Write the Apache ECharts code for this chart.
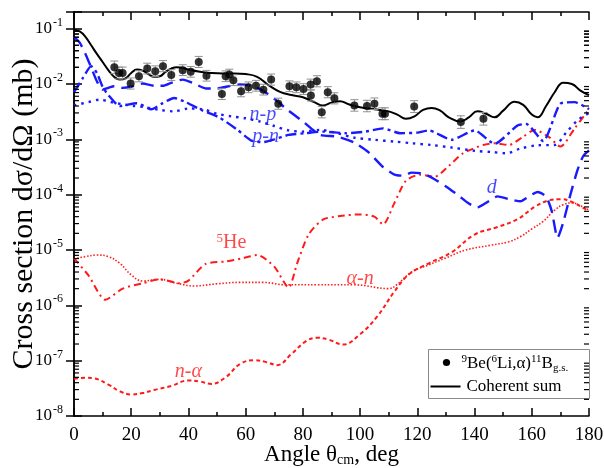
<!DOCTYPE html>
<html>
<head>
<meta charset="utf-8">
<script src="https://cdn.jsdelivr.net/npm/echarts@6/dist/echarts.min.js"></script>
<style>
html, body { margin: 0; padding: 0; background: #fff; }
#chart { width: 604px; height: 468px; }
</style>
</head>
<body>
<div id="chart"></div>
<script>
// experimental points 9Be(6Li,a)11B g.s.
var expAng = [14.1, 15.7, 17.0, 19.8, 22.7, 25.6, 28.4, 31.1, 34.0, 38.0, 40.8, 43.6, 46.3, 51.7, 53.0, 54.3, 55.7, 58.4, 61.0, 63.6,
  66.2, 68.9, 71.4, 75.3, 77.7, 80.2, 82.7, 82.8, 84.9, 86.6, 88.7, 91.0, 98.0, 102.4, 105.0, 107.8, 108.7, 118.9, 135.2, 143.1]
var expVal = [2.0e-2, 1.58e-2, 1.58e-2, 1.02e-2, 1.38e-2, 1.9e-2, 1.7e-2, 2.1e-2, 1.45e-2, 1.78e-2, 1.66e-2, 2.5e-2, 1.41e-2, 6.6e-3, 1.38e-2, 1.48e-2, 1.17e-2, 7.4e-3, 8.7e-3, 9.3e-3,
  7.9e-3, 1.2e-2, 4.4e-3, 9.1e-3, 8.7e-3, 8.1e-3, 9.8e-3, 6.2e-3, 1.12e-2, 3.1e-3, 7.1e-3, 5.5e-3, 4.1e-3, 4.0e-3, 4.4e-3, 2.9e-3, 2.9e-3, 3.9e-3, 2.05e-3, 2.35e-3]
var expErr = [0.30, 0.28, 0.28, 0.26, 0.26, 0.25, 0.25, 0.26, 0.25, 0.25, 0.25, 0.26, 0.25, 0.26, 0.25, 0.25, 0.25, 0.26, 0.25, 0.25,
  0.25, 0.26, 0.26, 0.25, 0.25, 0.25, 0.25, 0.26, 0.26, 0.27, 0.26, 0.26, 0.27, 0.27, 0.27, 0.28, 0.28, 0.28, 0.30, 0.30]

// coherent sum
var sumAng = [0, 2, 4, 6, 8, 10, 12, 14, 16, 18, 20, 22, 24, 26, 28, 30, 32, 34, 36, 38, 40, 44, 48, 52, 56, 60, 64, 68, 72, 76,
  80, 84, 87, 90, 93, 96, 100, 105, 110, 113, 116, 119, 122, 125, 128, 131, 135, 138, 141, 144, 147, 150, 154, 157, 160, 162, 165, 168, 171, 174, 177, 180]
var sumVal = [9.5e-2, 8.9e-2, 7.1e-2, 5.0e-2, 3.5e-2, 2.5e-2, 1.78e-2, 1.35e-2, 1.2e-2, 1.26e-2, 1.58e-2, 1.82e-2, 1.74e-2, 1.51e-2, 1.35e-2, 1.38e-2, 1.66e-2, 1.9e-2, 2.0e-2, 1.95e-2,
  1.82e-2, 1.66e-2, 1.58e-2, 1.55e-2, 1.55e-2, 1.51e-2, 1.35e-2, 9.5e-3, 7.2e-3, 6.3e-3,
  5.75e-3, 4.7e-3, 4.1e-3, 4.6e-3, 4.9e-3, 4.3e-3, 3.8e-3, 3.5e-3, 3.2e-3, 2.8e-3, 2.35e-3, 2.6e-3, 3.4e-3, 3.7e-3, 3.3e-3, 2.5e-3,
  2.1e-3, 2.5e-3, 3.2e-3, 2.9e-3, 2.5e-3, 3.3e-3, 4.8e-3, 4.2e-3, 2.8e-3, 2.5e-3, 4.0e-3, 7.1e-3, 1.05e-2, 1.0e-2, 7.6e-3, 6.3e-3]

// d (blue dashed)
var dAng = [0, 2, 4, 6, 8, 10, 12, 14, 17, 20, 24, 28, 31, 34, 38, 42, 46, 50, 54, 58, 62, 66, 70, 75, 80, 86, 92, 98, 103, 108,
  112, 115, 118, 122, 126, 130, 134, 138, 141, 144, 148, 152, 156, 159, 162, 165, 167, 169, 171, 173.5, 176, 178, 180]
var dVal = [7.1e-2, 5.6e-2, 3.5e-2, 2.0e-2, 1.12e-2, 7.9e-3, 8.5e-3, 9.1e-3, 8.5e-3, 8.9e-3, 1.02e-2, 9.3e-3, 9.3e-3, 1.05e-2, 1.2e-2, 1.02e-2, 8.3e-3, 8.3e-3, 9.1e-3, 9.8e-3,
  9.3e-3, 7.6e-3, 5.4e-3, 3.3e-3, 2.1e-3, 1.2e-3, 1.12e-3, 8.7e-4, 5.8e-4, 3.16e-4,
  2.3e-4, 2.2e-4, 2.5e-4, 2.4e-4, 1.9e-4, 1.41e-4, 1.0e-4, 6.9e-5, 5.9e-5, 7.1e-5, 9.3e-5, 8.3e-5, 7.6e-5, 9.3e-5, 1.12e-4, 9.3e-5, 5.0e-5, 1.66e-5, 3.16e-5, 1.0e-4, 2.8e-4, 5.0e-4, 6.3e-4]

// p-n (blue dash-dot)
var pnAng = [0, 3, 6, 8, 10, 12, 16, 22, 27, 31, 35, 39, 45, 51, 57, 62, 66, 70, 75, 81, 87, 95, 102, 108, 114, 120, 124, 132, 140, 147, 155, 158, 164, 170, 175, 180]
var pnVal = [7.1e-3, 1.26e-2, 2.1e-2, 1.58e-2, 8.9e-3, 6.3e-3, 4.0e-3, 4.5e-3, 3.5e-3, 4.5e-3, 5.6e-3, 4.7e-3, 3.3e-3, 2.45e-3, 1.5e-3, 9.5e-4, 8.9e-4, 1.0e-3, 1.2e-3, 1.29e-3,
  1.38e-3, 1.29e-3, 1.38e-3, 1.58e-3, 1.29e-3, 1.32e-3, 1.45e-3, 9.8e-4, 1.45e-3, 8.3e-4, 1.78e-3, 1.9e-3, 9.3e-4, 4.4e-3, 4.7e-3, 3.5e-3]

// n-p (blue dotted)
var npAng = [0, 5, 9, 13, 17, 21, 25, 30, 35, 40, 45, 50, 55, 60, 65, 70, 75, 80, 86, 92, 98, 105, 112, 118, 125, 132, 140, 146, 151, 156, 162, 168, 172, 176, 180]
var npVal = [4.1e-3, 4.7e-3, 5.2e-3, 4.7e-3, 4.3e-3, 4.0e-3, 3.8e-3, 3.4e-3, 3.2e-3, 3.6e-3, 3.5e-3, 2.9e-3, 2.6e-3, 2.4e-3, 2.1e-3, 1.74e-3, 1.45e-3, 1.38e-3, 1.48e-3, 1.29e-3,
  1.07e-3, 9.8e-4, 9.1e-4, 8.5e-4, 7.9e-4, 7.1e-4, 6.2e-4, 5.9e-4, 5.6e-4, 6.8e-4, 7.8e-4, 7.9e-4, 1.32e-3, 2.2e-3, 3.0e-3]

// 5He (red dash-dot)
var heAng = [0, 5, 11, 17, 24, 30, 37, 40, 46, 53, 59, 64, 70, 75, 78, 82, 87, 93, 100, 105, 108, 112, 116, 121, 126, 131, 136, 143, 147, 152, 157, 161, 166, 170, 175, 180]
var heVal = [7.1e-6, 3.5e-6, 1.26e-6, 2.0e-6, 2.5e-6, 2.95e-6, 2.5e-6, 2.8e-6, 5.6e-6, 6.2e-6, 7.1e-6, 8.1e-6, 5.0e-6, 2.1e-6, 5.75e-6, 1.9e-5, 3.55e-5, 4.1e-5, 4.4e-5, 4.0e-5,
  2.9e-5, 7.1e-5, 1.78e-4, 2.3e-4, 2.1e-4, 3.3e-4, 5.6e-4, 7.9e-4, 8.5e-4, 7.9e-4, 1.12e-3, 1.48e-3, 1.1e-3, 7.4e-4, 1.58e-3, 3.5e-3]

// a-n (red dotted)
var anAng = [0, 4, 8, 12, 16, 20, 24, 30, 36, 42, 50, 58, 66, 74, 85, 98, 110, 113, 118, 124, 130, 137, 146, 152, 156, 160, 164, 168, 171, 174, 177, 180]
var anVal = [6.9e-6, 7.6e-6, 8.1e-6, 7.6e-6, 5.75e-6, 3.55e-6, 2.75e-6, 2.95e-6, 2.5e-6, 2.24e-6, 2.45e-6, 2.6e-6, 2.6e-6, 2.35e-6, 2.35e-6, 2.35e-6, 2.0e-6, 2.4e-6, 4.0e-6, 5.4e-6,
  7.2e-6, 1.0e-5, 1.23e-5, 1.41e-5, 1.74e-5, 2.4e-5, 3.3e-5, 5.25e-5, 6.6e-5, 7.1e-5, 6.3e-5, 5.25e-5]

// n-a (red dashed)
var naAng = [0, 4, 7, 12, 16, 20, 24, 28, 34, 40, 44, 48, 53, 58, 63, 67, 71, 76, 81, 85, 89, 94, 100, 106, 112, 117, 124, 132, 140, 148, 155, 161, 166, 170, 174, 178, 180]
var naVal = [4.7e-8, 4.9e-8, 4.8e-8, 3.7e-8, 2.8e-8, 2.45e-8, 2.6e-8, 2.95e-8, 3.5e-8, 4.4e-8, 4.2e-8, 3.8e-8, 5.0e-8, 8.7e-8, 1.02e-7, 9.5e-8, 8.3e-8, 1.32e-7, 2.24e-7, 2.6e-7,
  2.4e-7, 1.95e-7, 3.0e-7, 6.3e-7, 1.78e-6, 3.6e-6, 5.75e-6, 9.1e-6, 1.9e-5, 2.6e-5, 3.6e-5, 6.0e-5, 7.9e-5, 8.3e-5, 7.4e-5, 5.75e-5, 5.0e-5]

// curve labels
var noteText = ['n-p', 'p-n', 'd', '{sup|5}He', 'α-n', 'n-α']
var noteAng = [66, 67, 146, 55, 100, 40]
var noteVal = [2.8e-3, 1.12e-3, 1.35e-4, 1.35e-5, 3.0e-6, 6.3e-8]

// tick labels
var xTickVals = [0, 20, 40, 60, 80, 100, 120, 140, 160, 180]
var yTickExp = [-8, -7, -6, -5, -4, -3, -2, -1]

var FONT = 'Liberation Serif'
var BLUE = '#1a1aff'
var RED = '#ff1a1a'

function pairs(xs, ys) {
  return xs.map(function (x, i) { return [x, ys[i]] })
}

// log minor ticks 2..9 per decade
var minorVals = []
for (var k = -8; k < -1; k++) {
  for (var m = 2; m <= 9; m++) minorVals.push(m * Math.pow(10, k))
}
for (var m2 = 2; m2 <= 9; m2++) minorVals.push(m2 * 0.01)

function curve(name, xs, ys, color, width, dash, smooth) {
  return {
    name: name,
    type: 'line',
    data: pairs(xs, ys),
    symbol: 'none',
    smooth: smooth,
    lineStyle: { color: color, width: width, type: dash },
    silent: true,
    z: 3
  }
}

var chart = echarts.init(document.getElementById('chart'))

var axisLine = { show: true, lineStyle: { color: '#000', width: 1.5 } }
var tickStyle = { color: '#000', width: 1.5 }

function xAxisOpt(pos, withName) {
  var o = {
    type: 'value',
    min: 0,
    max: 180,
    interval: 20,
    position: pos,
    axisLine: axisLine,
    axisTick: { inside: true, length: 8, lineStyle: tickStyle },
    minorTick: { show: true, splitNumber: 2, length: 4, lineStyle: tickStyle },
    splitLine: { show: false },
    axisLabel: { show: false }
  }
  if (withName) {
    o.name = 'Angle θ{sub|cm}, deg'
    o.nameLocation = 'middle'
    o.nameGap = 27
    o.nameMoveOverlap = false
    o.nameTextStyle = {
      color: '#000', fontFamily: FONT, fontSize: 23,
      rich: { sub: { fontFamily: FONT, fontSize: 14, color: '#000', padding: [10, 0, 0, 0] } }
    }
  }
  return o
}

function yAxisOpt(pos, withName) {
  var o = {
    type: 'log',
    logBase: 10,
    min: 1e-8,
    max: 0.2,
    position: pos,
    axisLine: axisLine,
    axisTick: { inside: true, length: 8, lineStyle: tickStyle },
    splitLine: { show: false },
    axisLabel: { show: false }
  }
  if (withName) {
    o.name = 'Cross section dσ/dΩ (mb)'
    o.nameLocation = 'middle'
    o.nameGap = 35
    o.nameRotate = 90
    o.nameMoveOverlap = false
    o.nameTextStyle = { color: '#000', fontFamily: FONT, fontSize: 30 }
  }
  return o
}

chart.setOption({
  animation: false,
  backgroundColor: '#fff',
  textStyle: { fontFamily: FONT, color: '#000' },
  grid: { left: 74, right: 15, top: 12, bottom: 52, containLabel: false, outerBoundsMode: 'none' },
  xAxis: [xAxisOpt('bottom', true), xAxisOpt('top', false)],
  yAxis: [yAxisOpt('left', true), yAxisOpt('right', false)],
  graphic: [
    {
      type: 'group',
      left: 428,
      top: 349,
      children: [
        { type: 'rect', shape: { x: 0, y: 0, width: 161, height: 49 }, style: { fill: '#fff', stroke: '#8a8a8a', lineWidth: 1 } },
        { type: 'circle', shape: { cx: 18, cy: 13, r: 3.6 }, style: { fill: '#000' } },
        {
          type: 'text', x: 33, y: 14,
          style: {
            text: '{sup|9}Be({sup|6}Li,α){sup|11}B{sub|g.s.}',
            fontFamily: FONT, fontSize: 17, fill: '#000', verticalAlign: 'middle',
            rich: {
              sup: { fontFamily: FONT, fontSize: 11, fill: '#000', padding: [0, 0, 9, 0] },
              sub: { fontFamily: FONT, fontSize: 11, fill: '#000', padding: [9, 0, 0, 0] }
            }
          }
        },
        { type: 'line', shape: { x1: 2, y1: 37, x2: 32, y2: 37 }, style: { stroke: '#000', lineWidth: 2 } },
        { type: 'text', x: 38, y: 37, style: { text: 'Coherent sum', fontFamily: FONT, fontSize: 17, fill: '#000', verticalAlign: 'middle' } }
      ]
    }
  ],
  series: [
    {
      // log minor ticks on left and right axes
      type: 'custom',
      silent: true,
      clip: false,
      data: minorVals.map(function (v) { return [0, v] }),
      encode: { x: 0, y: 1 },
      renderItem: function (params, api) {
        var v = api.value(1)
        var l = api.coord([0, v])
        var r = api.coord([180, v])
        var st = { stroke: '#000', lineWidth: 1.2 }
        return {
          type: 'group',
          children: [
            { type: 'line', shape: { x1: l[0], y1: l[1], x2: l[0] + 5, y2: l[1] }, style: st },
            { type: 'line', shape: { x1: r[0] - 5, y1: r[1], x2: r[0], y2: r[1] }, style: st }
          ]
        }
      },
      z: 5
    },
    {
      // x tick labels
      type: 'custom',
      silent: true,
      clip: false,
      data: xTickVals.map(function (v) { return [v, 1e-8] }),
      encode: { x: 0, y: 1 },
      renderItem: function (params, api) {
        var p = api.coord([api.value(0), 1e-8])
        return {
          type: 'text', x: p[0], y: p[1] + 19,
          style: { text: String(api.value(0)), fontFamily: FONT, fontSize: 19, fill: '#000', align: 'center', verticalAlign: 'middle' }
        }
      }
    },
    {
      // y tick labels 10^n
      type: 'custom',
      silent: true,
      clip: false,
      data: yTickExp.map(function (e) { return [0, Math.pow(10, e), e] }),
      encode: { x: 0, y: 1 },
      renderItem: function (params, api) {
        var p = api.coord([0, api.value(1)])
        return {
          type: 'text', x: p[0] - 11, y: p[1],
          style: {
            text: '10{sup|' + api.value(2) + '}',
            fontFamily: FONT, fontSize: 17, fill: '#000', align: 'right', verticalAlign: 'middle',
            rich: { sup: { fontFamily: FONT, fontSize: 12, fill: '#000', padding: [0, 0, 12, 1] } }
          }
        }
      }
    },
    curve('n-a', naAng, naVal, RED, 2, [4, 3], 0.4),
    curve('a-n', anAng, anVal, RED, 1.6, [1.5, 1.8], 0.4),
    curve('5He', heAng, heVal, RED, 2, [7, 4, 2, 4], 0.25),
    curve('n-p', npAng, npVal, BLUE, 2.4, [2.5, 5], 0.3),
    curve('p-n', pnAng, pnVal, BLUE, 2.4, [11, 4, 3, 4], 0.2),
    curve('d', dAng, dVal, BLUE, 2.4, [13, 7], 0.2),
    curve('Coherent sum', sumAng, sumVal, '#000', 2, 'solid', 0.45),
    {
      // error bars
      type: 'custom',
      silent: true,
      data: expAng.map(function (a, i) { return [a, expVal[i], expErr[i]] }),
      encode: { x: 0, y: 1 },
      renderItem: function (params, api) {
        var x = api.value(0), v = api.value(1), e = api.value(2)
        var lo = api.coord([x, v / (1 + e)])
        var hi = api.coord([x, v * (1 + e)])
        var w = 4
        var st = { stroke: '#909090', lineWidth: 1 }
        return {
          type: 'group',
          children: [
            { type: 'line', shape: { x1: lo[0], y1: lo[1], x2: hi[0], y2: hi[1] }, style: st },
            { type: 'line', shape: { x1: lo[0] - w, y1: lo[1], x2: lo[0] + w, y2: lo[1] }, style: st },
            { type: 'line', shape: { x1: hi[0] - w, y1: hi[1], x2: hi[0] + w, y2: hi[1] }, style: st }
          ]
        }
      },
      z: 6
    },
    {
      name: 'exp',
      type: 'scatter',
      data: pairs(expAng, expVal),
      symbol: 'circle',
      symbolSize: 8,
      itemStyle: { color: '#000' },
      silent: true,
      z: 7
    },
    {
      type: 'scatter',
      silent: true,
      symbolSize: 0,
      z: 8,
      data: noteText.map(function (t, i) {
        return {
          value: [noteAng[i], noteVal[i]],
          label: {
            show: true,
            position: 'inside',
            formatter: t,
            color: i < 3 ? BLUE : RED,
            fontStyle: i === 3 ? 'normal' : 'italic',
            fontFamily: FONT,
            fontSize: 20,
            rich: { sup: { fontFamily: FONT, fontSize: 13, color: RED, padding: [0, 0, 9, 0] } }
          }
        }
      })
    }
  ]
})
</script>
</body>
</html>
